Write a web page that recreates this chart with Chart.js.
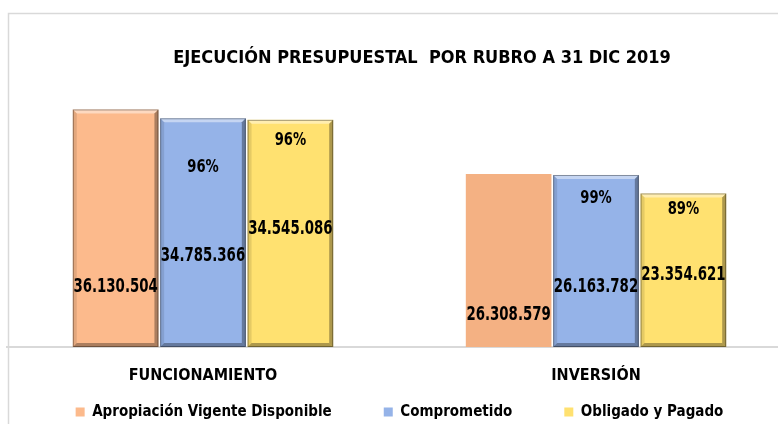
<!DOCTYPE html>
<html>
<head>
  <title>Ejecución presupuestal por rubro</title>
  <script src="https://cdn.jsdelivr.net/npm/chart.js"></script>
  <style>
    html, body {
      margin: 0;
      padding: 0;
      background: #ffffff;
      overflow: hidden;
    }
    .chart-container {
      position: relative;
      width: 838px;
      height: 424px;
    }
  </style>
</head>
<body>
  <div class="chart-container">
    <canvas id="budgetChart"></canvas>
  </div>

  <script>
    // Datos del gráfico
    const rubros = ['FUNCIONAMIENTO', 'INVERSIÓN'];
    const apropiacion = [36130504, 26308579];
    const comprometido = [34785366, 26163782];
    const obligado = [34545086, 23354621];
    const seriesNames = ['Apropiación Vigente Disponible', 'Comprometido', 'Obligado y Pagado'];
    const yTicks = { min: 0, max: 40000000 };

    // posición vertical de las etiquetas (fracción de la altura de la barra)
    const valuePos = [[0.254, 0.185], [0.398, 0.347], [0.518, 0.469]];
    const pctPos = [null, [0.785, 0.860], [0.908, 0.898]];

    const FONT = '"Liberation Sans Narrow", "Arial Narrow", "DejaVu Sans Condensed", sans-serif';
    Chart.defaults.font.family = FONT;
    Chart.defaults.color = '#000000';

    const fmt = v => String(v).replace(/\B(?=(\d{3})+(?!\d))/g, '.');

    // marco gris del área del gráfico
    const framePlugin = {
      id: 'frame',
      beforeDraw(chart) {
        const c = chart.ctx;
        c.save();
        c.strokeStyle = '#d9d9d9';
        c.lineWidth = 1.5;
        c.beginPath();
        c.moveTo(8.5, chart.height);
        c.lineTo(8.5, 13.5);
        c.lineTo(chart.width, 13.5);
        c.stroke();
        c.restore();
      },
      afterLayout(chart) {
        // deja sitio a las etiquetas del eje x (la leyenda va justo debajo)
        chart.scales.x.bottom = chart.height;
      }
    };

    // efecto biselado de Excel sobre las barras
    const bevelPlugin = {
      id: 'bevel',
      afterDatasetsDraw(chart) {
        const c = chart.ctx;
        const b = 4;
        chart.data.datasets.forEach((ds, di) => {
          chart.getDatasetMeta(di).data.forEach((bar, i) => {
            if (di === 0 && i === 1) return; // la barra naranja de inversión es plana
            const l = bar.x - bar.width / 2, r = bar.x + bar.width / 2;
            const t = bar.y, btm = bar.base;
            const poly = (pts, col) => {
              c.fillStyle = col;
              c.beginPath();
              c.moveTo(pts[0], pts[1]);
              for (let k = 2; k < pts.length; k += 2) c.lineTo(pts[k], pts[k + 1]);
              c.closePath();
              c.fill();
            };
            c.save();
            poly([l, t, r, t, r - b, t + b, l + b, t + b], 'rgba(255,255,255,0.45)');
            poly([l, t, l + b, t + b, l + b, btm - b, l, btm], 'rgba(0,0,0,0.10)');
            poly([r, t, r, btm, r - b, btm - b, r - b, t + b], 'rgba(0,0,0,0.32)');
            poly([l, btm, l + b, btm - b, r - b, btm - b, r, btm], 'rgba(0,0,0,0.32)');
            c.strokeStyle = 'rgba(0,0,0,0.35)';
            c.lineWidth = 1;
            c.strokeRect(l + 0.5, t + 0.5, bar.width - 1, btm - t - 1);
            c.restore();
          });
        });
      }
    };

    // texto estrecho, parecido a Arial Narrow
    function narrowText(c, txt, x, y, size, sx) {
      c.save();
      c.font = 'bold ' + size + 'px ' + FONT;
      c.translate(x, y);
      c.scale(sx, 1);
      c.fillText(txt, 0, 0);
      c.restore();
    }

    // valores y porcentajes dentro de las barras
    const labelPlugin = {
      id: 'barLabels',
      afterDatasetsDraw(chart) {
        const c = chart.ctx;
        const base = chart.scales.y.getPixelForValue(0);
        c.save();
        c.fillStyle = '#000000';
        c.textAlign = 'center';
        c.textBaseline = 'middle';
        chart.data.datasets.forEach((ds, di) => {
          chart.getDatasetMeta(di).data.forEach((bar, i) => {
            const h = base - bar.y;
            narrowText(c, fmt(ds.data[i]), bar.x, base - h * valuePos[di][i], 19, 0.78);
            if (pctPos[di]) {
              const pct = Math.round(ds.data[i] / apropiacion[i] * 100) + '%';
              narrowText(c, pct, bar.x, base - h * pctPos[di][i], 17, 0.86);
            }
          });
        });
        c.restore();
      }
    };

    const ctx = document.getElementById('budgetChart').getContext('2d');
    const chart = new Chart(ctx, {
      type: 'bar',
      data: {
        labels: rubros,
        datasets: [{
          label: seriesNames[0],
          data: apropiacion,
          backgroundColor: c => c.dataIndex === 1 ? '#f4b183' : '#fcba8c',
          borderWidth: 0
        }, {
          label: seriesNames[1],
          data: comprometido,
          backgroundColor: '#95b3e8',
          borderWidth: 0
        }, {
          label: seriesNames[2],
          data: obligado,
          backgroundColor: '#ffe170',
          borderWidth: 0
        }]
      },
      options: {
        responsive: true,
        maintainAspectRatio: false,
        animation: false,
        datasets: {
          bar: {
            categoryPercentage: 0.667,
            barPercentage: 0.98
          }
        },
        layout: {
          padding: { left: 6.5, right: 0.5, top: 0, bottom: -5.5 }
        },
        plugins: {
          title: {
            display: true,
            text: 'EJECUCIÓN PRESUPUESTAL  POR RUBRO A 31 DIC 2019',
            font: { size: 18, weight: 'bold' },
            color: '#000000',
            padding: { top: 47.4, bottom: 15 }
          },
          legend: {
            position: 'bottom',
            fullSize: false,
            labels: {
              boxWidth: 9,
              boxHeight: 9,
              padding: 52,
              font: { size: 15, weight: 'bold' },
              color: '#000000'
            }
          },
          tooltip: { enabled: false }
        },
        scales: {
          x: {
            grid: { display: false, drawTicks: false, tickLength: 0 },
            border: { display: true, color: '#d9d9d9', width: 2 },
            ticks: {
              padding: 19.4,
              font: { size: 16, weight: 'bold' },
              color: '#000000'
            },
            afterFit: s => { s.height = 5.5; }
          },
          y: {
            position: 'right',
            min: yTicks.min,
            max: yTicks.max,
            grid: { display: false },
            border: { display: false },
            ticks: { display: false },
            afterFit: s => { s.width = 45; }
          }
        }
      },
      plugins: [framePlugin, bevelPlugin, labelPlugin]
    });
  </script>
</body>
</html>
